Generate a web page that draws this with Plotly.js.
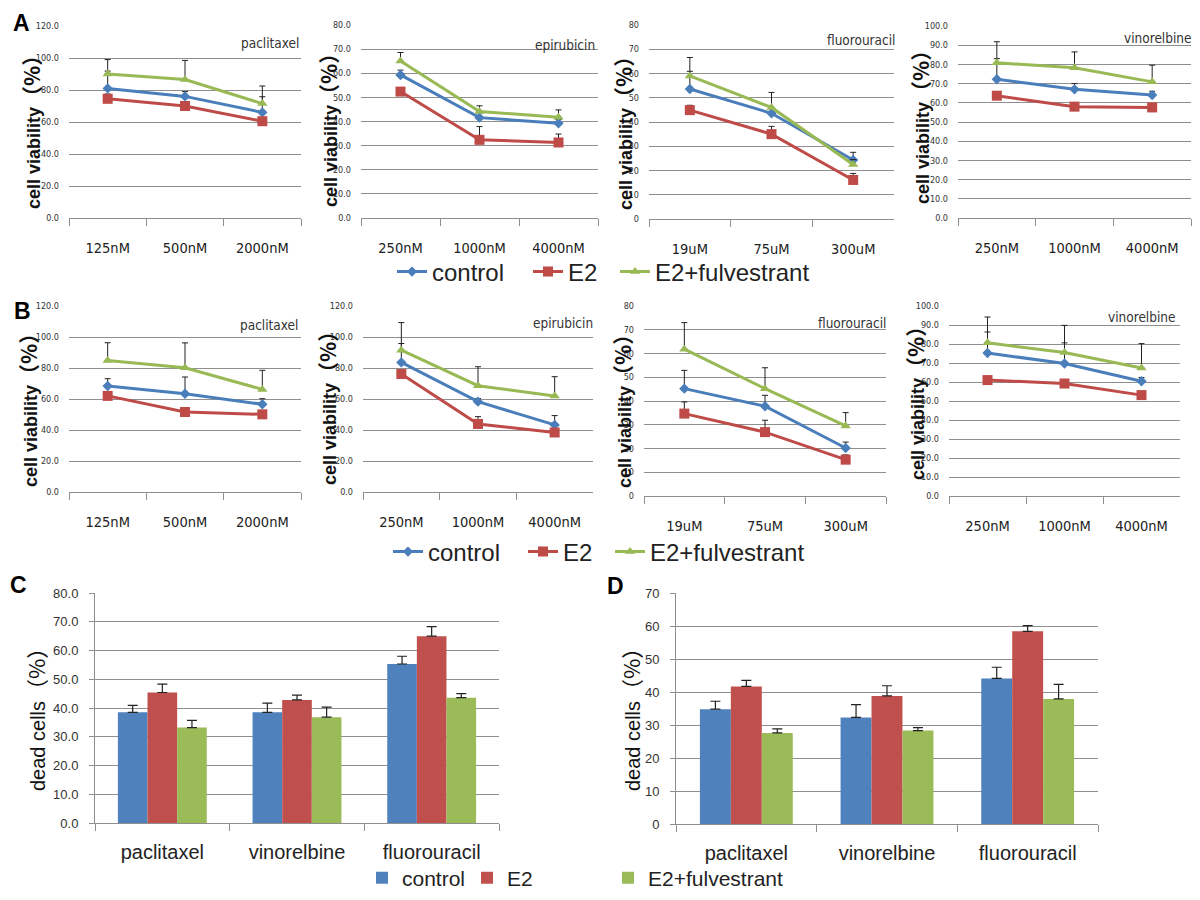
<!DOCTYPE html>
<html>
<head>
<meta charset="utf-8">
<script src="https://cdn.plot.ly/plotly-3.0.1.min.js"></script>
<style>html,body{margin:0;padding:0;background:#fff;}#chart{width:1200px;height:900px;}</style>
</head>
<body>
<div id="chart"></div>
<script>
// ---------- data ----------
const SERIES = ['control', 'E2', 'E2+fulvestrant'];
const DOSES_PAC = ['125nM', '500nM', '2000nM'];
const DOSES_EPI = ['250nM', '1000nM', '4000nM'];
const DOSES_FLU = ['19uM', '75uM', '300uM'];
const DOSES_VIN = ['250nM', '1000nM', '4000nM'];
const DRUGS_BAR = ['paclitaxel', 'vinorelbine', 'fluorouracil'];

// Panel A (cell viability %)
const A_pac_control = [81.0, 76.0, 66.0], A_pac_control_err = [10.8, 3.0, 9.8];
const A_pac_E2 = [74.5, 70.0, 60.5], A_pac_E2_err = [3.0, 2.7, 2.0];
const A_pac_E2F = [90.0, 86.5, 71.5], A_pac_E2F_err = [9.0, 12.0, 11.0];

const A_epi_control = [59.3, 41.6, 39.3], A_epi_control_err = [2.0, 2.0, 1.5];
const A_epi_E2 = [52.4, 32.4, 31.3], A_epi_E2_err = [1.5, 5.5, 3.5];
const A_epi_E2F = [65.1, 44.1, 41.8], A_epi_E2F_err = [3.5, 2.4, 3.0];

const A_flu_control = [53.6, 43.6, 24.3], A_flu_control_err = [7.3, 2.0, 3.2];
const A_flu_E2 = [44.9, 35.0, 16.1], A_flu_E2_err = [2.0, 3.2, 2.7];
const A_flu_E2F = [59.0, 46.0, 22.5], A_flu_E2F_err = [7.6, 6.2, 2.0];

const A_vin_control = [72.3, 67.0, 64.0], A_vin_control_err = [10.7, 3.0, 2.0];
const A_vin_E2 = [63.7, 58.0, 57.6], A_vin_E2_err = [2.0, 2.0, 1.5];
const A_vin_E2F = [80.8, 78.2, 70.9], A_vin_E2F_err = [11.0, 8.3, 8.7];

// Panel B (cell viability %)
const B_pac_control = [68.4, 63.4, 56.6], B_pac_control_err = [4.7, 10.8, 3.6];
const B_pac_E2 = [62.0, 51.6, 50.1], B_pac_E2_err = [2.0, 2.0, 2.0];
const B_pac_E2F = [84.9, 80.2, 66.2], B_pac_E2F_err = [11.4, 16.0, 12.3];

const B_epi_control = [83.6, 58.3, 43.3], B_epi_control_err = [12.2, 2.0, 6.0];
const B_epi_E2 = [76.1, 43.9, 38.4], B_epi_E2_err = [2.0, 4.7, 2.0];
const B_epi_E2F = [91.5, 68.6, 62.0], B_epi_E2F_err = [17.8, 12.2, 12.4];

const B_flu_control = [45.2, 37.8, 20.2], B_flu_control_err = [7.7, 4.6, 2.5];
const B_flu_E2 = [34.7, 26.9, 15.3], B_flu_E2_err = [4.9, 5.0, 2.0];
const B_flu_E2F = [61.8, 45.2, 29.5], B_flu_E2F_err = [11.2, 8.8, 5.6];

const B_vin_control = [75.3, 69.7, 60.4], B_vin_control_err = [11.0, 10.9, 2.0];
const B_vin_E2 = [61.0, 59.2, 53.1], B_vin_E2_err = [2.0, 2.0, 2.0];
const B_vin_E2F = [80.6, 75.5, 67.4], B_vin_E2F_err = [13.6, 14.3, 12.8];

// Panel C (dead cells %)
const C_control = [38.5, 38.5, 55.3], C_control_err = [2.4, 3.2, 2.7];
const C_E2 = [45.4, 42.8, 65.0], C_E2_err = [2.9, 1.7, 3.3];
const C_E2F = [33.2, 36.8, 43.6], C_E2F_err = [2.5, 3.5, 1.4];

// Panel D (dead cells %)
const D_control = [34.8, 32.3, 44.1], D_control_err = [2.4, 3.9, 3.4];
const D_E2 = [41.7, 38.8, 58.4], D_E2_err = [1.8, 3.1, 1.7];
const D_E2F = [27.6, 28.3, 37.9], D_E2F_err = [1.2, 0.9, 4.4];

// ---------- style ----------
const W = 1200, H = 900;
const NARROW = '"Liberation Sans Narrow", "Arial Narrow", "DejaVu Sans Condensed", sans-serif';
const SANS = '"Liberation Sans", Arial, sans-serif';
const CJK = "'Noto Sans CJK SC'";
const LINE_COLORS = ['#4A7EBB', '#BE4B48', '#98B954'];
const BAR_COLORS = ['#4F81BD', '#C0504D', '#9BBB59'];
const SYMBOLS = ['diamond', 'square', 'triangle-up'];
const MSIZE = [8, 10, 9];
const GRID = '#8f8f8f';

const fx = p => p / W;
const fy = p => 1 - p / H;

// one legend per series so entries can be spaced like the original
const LEG_A = ['legend', 'legend2', 'legend3'];
const LEG_B = ['legend4', 'legend5', 'legend6'];
const LEG_C = ['legend7', 'legend8', 'legend9'];

// [axis id, doses, values, errors, ymax, dtick, format, left, right, top, bottom, drug, legends, drugRight, drugY, titleX, titleY]
const linePanels = [
  ['', DOSES_PAC, [A_pac_control, A_pac_E2, A_pac_E2F], [A_pac_control_err, A_pac_E2_err, A_pac_E2F_err], 120, 20, '.1f', 69, 301, 26, 218, 'paclitaxel', LEG_A, 301, 43, 31, 127],
  ['2', DOSES_EPI, [A_epi_control, A_epi_E2, A_epi_E2F], [A_epi_control_err, A_epi_E2_err, A_epi_E2F_err], 80, 10, '.1f', 361, 598, 25, 218, 'epirubicin', null, 597, 45, 328, 125],
  ['3', DOSES_FLU, [A_flu_control, A_flu_E2, A_flu_E2F], [A_flu_control_err, A_flu_E2_err, A_flu_E2F_err], 80, 10, 'd', 649, 894, 25, 219, 'fluorouracil', null, 897, 40, 623, 128],
  ['4', DOSES_VIN, [A_vin_control, A_vin_E2, A_vin_E2F], [A_vin_control_err, A_vin_E2_err, A_vin_E2F_err], 100, 10, '.1f', 958, 1191, 26, 218, 'vinorelbine', null, 1194, 38, 920, 122],
  ['5', DOSES_PAC, [B_pac_control, B_pac_E2, B_pac_E2F], [B_pac_control_err, B_pac_E2_err, B_pac_E2F_err], 120, 20, '.1f', 69, 301, 306, 492, 'paclitaxel', LEG_B, 300, 325, 28, 405],
  ['6', DOSES_EPI, [B_epi_control, B_epi_E2, B_epi_E2F], [B_epi_control_err, B_epi_E2_err, B_epi_E2F_err], 120, 20, '.1f', 363, 593, 306, 492, 'epirubicin', null, 595, 323, 327, 403],
  ['7', DOSES_FLU, [B_flu_control, B_flu_E2, B_flu_E2F], [B_flu_control_err, B_flu_E2_err, B_flu_E2F_err], 80, 10, 'd', 644, 886, 306, 496, 'fluorouracil', null, 888, 323, 622, 406],
  ['8', DOSES_VIN, [B_vin_control, B_vin_E2, B_vin_E2F], [B_vin_control_err, B_vin_E2_err, B_vin_E2F_err], 100, 10, '.1f', 949, 1180, 306, 496, 'vinorelbine', null, 1178, 317, 915, 398]
];

const traces = [];
const layout = {
  width: W, height: H,
  margin: {l: 0, r: 0, t: 0, b: 0},
  paper_bgcolor: '#ffffff', plot_bgcolor: '#ffffff',
  showlegend: true,
  annotations: [],
  font: {family: SANS, color: '#222'}
};

linePanels.forEach(p => {
  const [id, doses, vals, errs, ymax, dtick, fmt, l, r, t, b, drug, legs, drugR, drugY, titleX, titleY] = p;
  const xa = 'x' + id, ya = 'y' + id;
  for (let s = 0; s < 3; s++) {
    traces.push({
      type: 'scatter', mode: 'lines+markers',
      x: doses, y: vals[s], name: SERIES[s],
      xaxis: xa, yaxis: ya,
      legend: legs ? legs[s] : 'legend', showlegend: !!legs,
      line: {color: LINE_COLORS[s], width: 3},
      marker: {symbol: SYMBOLS[s], size: MSIZE[s], color: LINE_COLORS[s]},
      error_y: {type: 'data', symmetric: false, array: errs[s], arrayminus: [0, 0, 0],
                color: '#222', thickness: 1, width: 3},
      hoverinfo: 'skip'
    });
  }
  layout['xaxis' + id] = {
    domain: [fx(l), fx(r)], anchor: ya, type: 'category',
    range: [-0.5, 2.5], tickson: 'boundaries', ticks: 'outside', ticklen: 7,
    tickcolor: GRID, showline: true, linecolor: GRID, linewidth: 1,
    showgrid: false, zeroline: false, fixedrange: true,
    tickfont: {family: NARROW, size: 14.5, color: '#222'}, ticklabelstandoff: 17
  };
  layout['yaxis' + id] = {
    domain: [fy(b), fy(t)], anchor: xa, range: [0, ymax], dtick: dtick, tick0: 0,
    tickformat: fmt, showgrid: true, gridcolor: GRID, gridwidth: 1,
    showline: false, zeroline: false, ticks: '', fixedrange: true,
    tickfont: {family: NARROW, size: 9, color: '#333'}, ticklabelstandoff: 9
  };
  layout.annotations.push({
    xref: 'paper', yref: 'paper', x: fx(drugR), y: fy(drugY), xanchor: 'right', yanchor: 'middle',
    text: drug, showarrow: false, font: {family: NARROW, size: 13.5, color: '#333'}
  });
  layout.annotations.push({
    xref: 'paper', yref: 'paper', x: fx(titleX), y: fy(titleY), xanchor: 'center', yanchor: 'middle',
    text: '<b>cell viability<span style="font-family:' + CJK + ';font-size:21px">（%）</span></b>',
    textangle: -90, showarrow: false,
    font: {family: SANS, size: 18, color: '#111'}
  });
});

// bar panels
const barPanels = [
  ['9', [C_control, C_E2, C_E2F], [C_control_err, C_E2_err, C_E2F_err], 80, 10, '.1f', 95, 499, 593, 823, true, 35],
  ['10', [D_control, D_E2, D_E2F], [D_control_err, D_E2_err, D_E2F_err], 70, 10, 'd', 676, 1098, 593, 824, false, 630]
];
barPanels.forEach(p => {
  const [id, vals, errs, ymax, dtick, fmt, l, r, t, b, showLeg, titleX] = p;
  const xa = 'x' + id, ya = 'y' + id;
  for (let s = 0; s < 3; s++) {
    traces.push({
      type: 'bar', x: DRUGS_BAR, y: vals[s], name: SERIES[s],
      xaxis: xa, yaxis: ya, legend: LEG_C[s], showlegend: showLeg,
      marker: {color: BAR_COLORS[s], line: {width: 0}},
      error_y: {type: 'data', symmetric: false, array: errs[s], arrayminus: [0, 0, 0],
                color: '#222', thickness: 1.2, width: 5},
      hoverinfo: 'skip'
    });
  }
  layout['xaxis' + id] = {
    domain: [fx(l), fx(r)], anchor: ya, type: 'category',
    range: [-0.5, 2.5], tickson: 'boundaries', ticks: 'outside', ticklen: 7,
    tickcolor: GRID, showline: true, linecolor: GRID, showgrid: false, zeroline: false,
    fixedrange: true, tickfont: {family: SANS, size: 20, color: '#222'}, ticklabelstandoff: 11
  };
  layout['yaxis' + id] = {
    domain: [fy(b), fy(t)], anchor: xa, range: [0, ymax], dtick: dtick, tick0: 0,
    tickformat: fmt, showgrid: true, gridcolor: GRID, showline: true, linecolor: GRID,
    zeroline: false, ticks: 'outside', ticklen: 5, tickcolor: GRID, fixedrange: true,
    tickfont: {family: SANS, size: 13, color: '#333'}, ticklabelstandoff: 8
  };
  layout.annotations.push({
    xref: 'paper', yref: 'paper', x: fx(titleX), y: fy(714), xanchor: 'center', yanchor: 'middle',
    text: 'dead cells<span style="font-family:' + CJK + ';font-size:22px">（%）</span>', textangle: -90, showarrow: false,
    font: {family: SANS, size: 20, color: '#111'}
  });
});
layout.barmode = 'group';
layout.bargap = 0.34;
layout.bargroupgap = 0;

// legends
function leg(x, y, size) {
  return {orientation: 'h', x: fx(x), y: fy(y), xanchor: 'left', yanchor: 'middle',
    font: {family: SANS, size: size, color: '#222'}, bgcolor: 'rgba(0,0,0,0)', borderwidth: 0, itemwidth: 30};
}
layout.legend = leg(392, 272, 24);
layout.legend2 = leg(528, 272, 24);
layout.legend3 = leg(615, 272, 24);
layout.legend4 = leg(388, 552, 24);
layout.legend5 = leg(523, 552, 24);
layout.legend6 = leg(610, 552, 24);
layout.legend7 = leg(362, 878, 21);
layout.legend8 = leg(467, 878, 21);
layout.legend9 = leg(608, 878, 21);

// panel letters
[['A', 21, 23], ['B', 22, 311], ['C', 18, 585], ['D', 615, 586]].forEach(([txt, x, y]) => {
  layout.annotations.push({xref: 'paper', yref: 'paper', x: fx(x), y: fy(y), xanchor: 'center', yanchor: 'middle',
    text: '<b>' + txt + '</b>', showarrow: false, font: {family: SANS, size: 23, color: '#000'}});
});

Plotly.newPlot('chart', traces, layout, {displayModeBar: false, staticPlot: true});
</script>
</body>
</html>
